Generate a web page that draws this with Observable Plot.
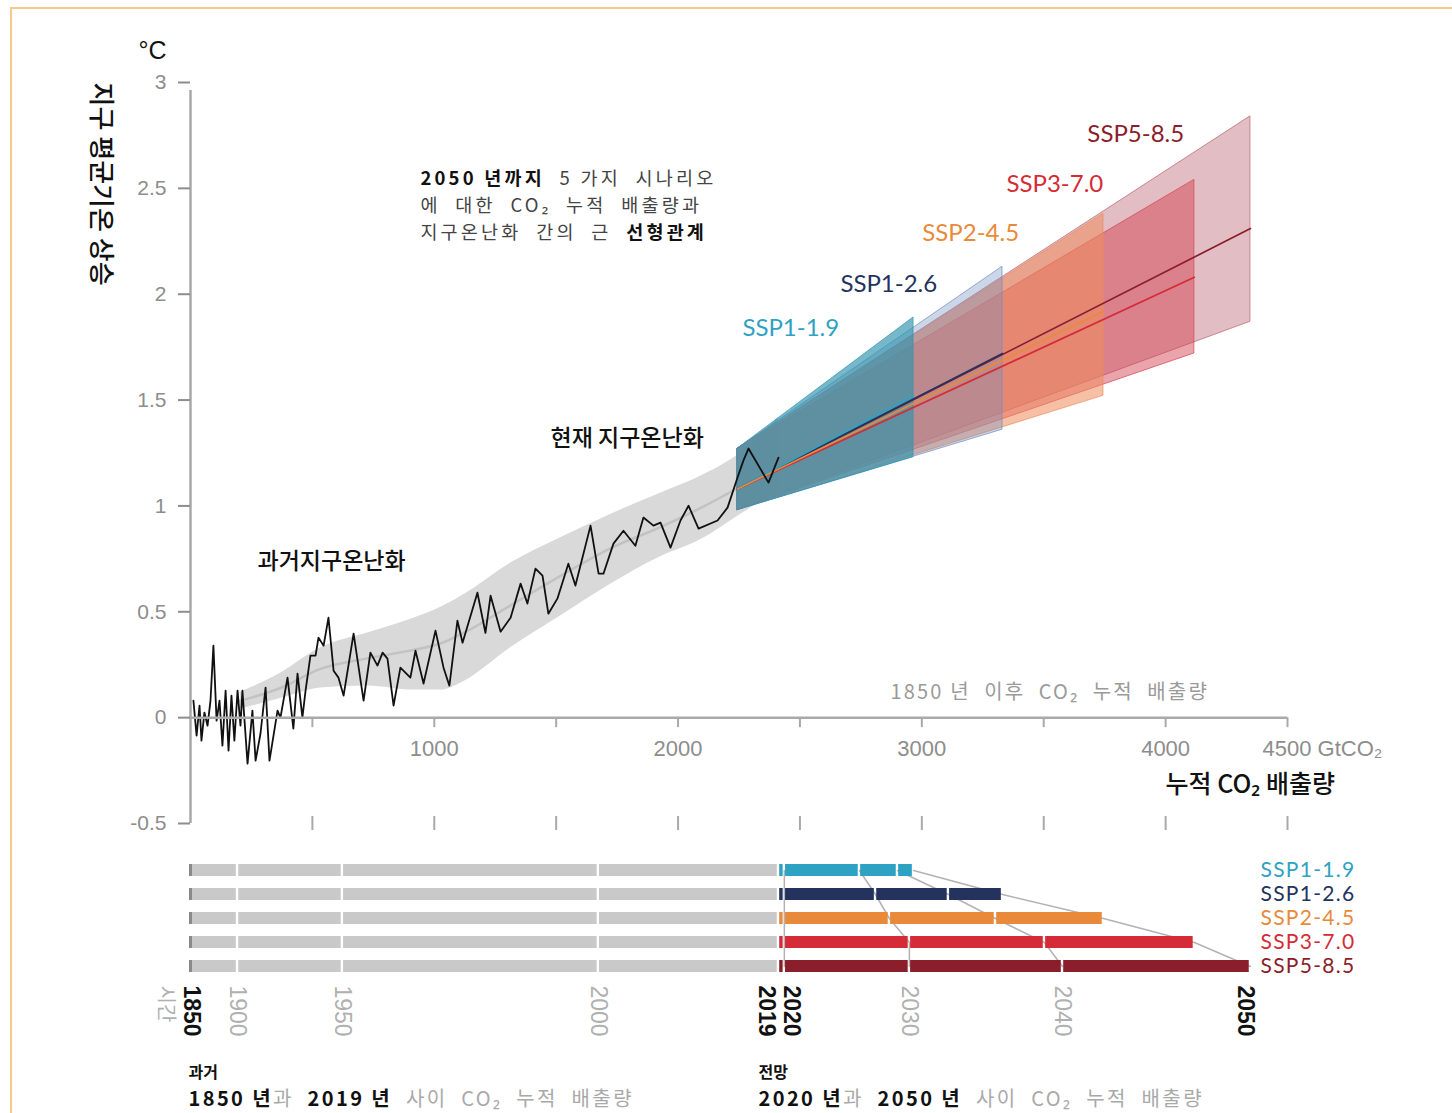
<!DOCTYPE html>
<html>
<head>
<meta charset="utf-8">
<script src="https://cdn.jsdelivr.net/npm/d3@7"></script>
<script src="https://cdn.jsdelivr.net/npm/@observablehq/plot@0.6"></script>
<style>
  body { margin: 0; background: #fff; }
  #wrap { position: relative; width: 1452px; height: 1113px; overflow: hidden; background: #fff; }
  #frame { position: absolute; left: 10px; top: 7px; width: 1500px; height: 1200px; border: 2px solid #f6c88a; box-sizing: border-box; pointer-events: none; }
  svg { display: block; }
</style>
</head>
<body>
<div id="wrap"><div id="chart"></div><div id="frame"></div></div>
<script>
// ---------- DATA ----------
// Historical warming vs cumulative CO2 emissions (GtCO2, °C)
const histG = [12,25,37,45,57,70,82,94,107,119,131,144,156,168,180,193,205,213,234,254,267,287,308,324,357,369,398,422,439,459,472,492,513,525,546,566,587,607,628,669,710,738,767,788,808,833,861,902,923,956,1005,1038,1062,1095,1116,1177,1210,1231,1272,1313,1354,1382,1415,1444,1468,1505,1550,1579,1641,1674,1694,1735,1776,1825,1858,1899,1928,1969,2010,2043,2084,2162,2203,2244,2268,2289,2371,2412];
const histT = [0.08,-0.085,0.057,-0.109,0.024,-0.038,0.08,0.34,-0.014,0.08,-0.132,0.128,-0.156,0.104,-0.109,0.128,-0.038,0.128,-0.217,0.033,-0.203,-0.076,0.142,-0.203,0.033,0,0.189,-0.052,0.208,0,0.128,0.293,0.293,0.378,0.34,0.472,0.222,0.189,0.104,0.397,0.08,0.307,0.246,0.307,0.279,0.057,0.236,0.189,0.316,0.161,0.411,0.236,0.151,0.458,0.354,0.59,0.40,0.576,0.406,0.472,0.633,0.539,0.704,0.671,0.491,0.562,0.727,0.624,0.907,0.68,0.68,0.822,0.883,0.812,0.945,0.907,0.921,0.803,0.931,1.001,0.893,0.931,0.992,1.134,1.214,1.271,1.11,1.228];

// Historical uncertainty band and smoothed trend
const bandG     = [205,369,533,726,915,1025,1120,1313,1518,1723,1928,2092,2256,2412];
const bandLo    = [0.04,0.09,0.14,0.15,0.13,0.13,0.17,0.33,0.48,0.63,0.76,0.84,0.96,1.07];
const bandHi    = [0.12,0.21,0.33,0.40,0.47,0.52,0.58,0.73,0.85,0.96,1.06,1.14,1.25,1.42];
const bandTrend = [0.08,0.14,0.23,0.28,0.32,0.35,0.40,0.53,0.67,0.80,0.90,0.99,1.09,1.18];

// Scenarios
const scenarios = ["SSP1-1.9","SSP1-2.6","SSP2-4.5","SSP3-7.0","SSP5-8.5"];
const scenarioColors = ["#2ea2c2","#23335e","#e98a3b","#d52b36","#8b1e2b"];
const fanColors = ["#2f93ad","#6f8cc0","#ee8d5c","#d4404f","#b9626f"];
const fanOpacity = [0.66,0.36,0.55,0.48,0.42];
const fanStartG = 2244, fanStartLo = 0.98, fanStartHi = 1.27, fanStartMid = 1.08;
const fanEndG   = [2966,3331,3745,4118,4348];
const fanEndLo  = [1.23,1.36,1.52,1.72,1.87];
const fanEndHi  = [1.89,2.13,2.38,2.54,2.84];
const fanEndMid = [1.52,1.72,1.92,2.08,2.31];

// Bottom panel: cumulative emissions at year markers
const histYears = [1850,1900,1950,2000,2019];
const histCum   = [0,193,623,1673,2412];
const cum2020 = [2436,2436,2436,2436,2436];
const cum2030 = [2744,2810,2867,2949,2949];
const cum2040 = [2900,3109,3302,3503,3577];
const cum2050 = fanEndG;

// Tick values
const yTicks = [-0.5,0,0.5,1,1.5,2,2.5,3];
const xTicks = [0,500,1000,1500,2000,2500,3000,3500,4000,4500];
const xLabels = [1000,2000,3000,4000];

// ---------- HELPERS ----------
const KR = '"Noto Sans CJK KR", "Noto Sans", sans-serif';
const LAT = 'Lato, "Noto Sans", sans-serif';
const HEL = '"Liberation Sans", Arial, sans-serif';
const NS = "http://www.w3.org/2000/svg";
function richify(svg, boldFill) {
  svg.querySelectorAll("text").forEach(t => {
    const s = t.textContent;
    if (!s.includes("**")) return;
    const parts = s.split("**");
    while (t.firstChild) t.removeChild(t.firstChild);
    parts.forEach((p, i) => {
      if (!p) return;
      const ts = document.createElementNS(NS, "tspan");
      ts.textContent = p;
      if (i % 2 === 1) { ts.setAttribute("font-weight", "bold"); ts.setAttribute("fill", boldFill); }
      t.appendChild(ts);
    });
  });
}
function spacing(svg, test, ls) {
  svg.querySelectorAll("text").forEach(t => { if (test(t.textContent)) t.setAttribute("letter-spacing", ls); });
}

// ---------- TOP PANEL ----------
const histRows = histG.map((g, i) => ({g, t: histT[i]}));
const bandRows = bandG.map((g, i) => ({g, lo: bandLo[i], hi: bandHi[i], mid: bandTrend[i]}));
const fanRows = scenarios.map((s, i) => [
  {s, g: fanStartG, lo: fanStartLo, hi: fanStartHi, mid: fanStartMid},
  {s, g: fanEndG[i], lo: fanEndLo[i], hi: fanEndHi[i], mid: fanEndMid[i]}
]);
const fanOrder = [4,3,2,1,0];
const lineOrder = [4,3,1,0,2];

const scenarioLabels = [
  {i: 0, g: 2264, t: 1.84},
  {i: 1, g: 2666, t: 2.045},
  {i: 2, g: 3002, t: 2.29},
  {i: 3, g: 3347, t: 2.52},
  {i: 4, g: 3679, t: 2.755}
];
const noteLines = [
  {g: 943, t: 2.545, text: "**2050 년까지**  5 가지  시나리오"},
  {g: 943, t: 2.418, text: "에  대한  CO₂  누적  배출량과"},
  {g: 943, t: 2.29, text: "지구온난화  간의  근  **선형관계**"}
];

const topPlot = Plot.plot({
  width: 1452, height: 845,
  marginTop: 82, marginBottom: 22, marginLeft: 190, marginRight: 165,
  x: {domain: [0, 4500]},
  y: {domain: [-0.5, 3]},
  color: {type: "identity"},
  style: {fontFamily: KR, fontSize: "20px", color: "#111", background: "transparent", overflow: "visible"},
  marks: [
    Plot.areaY(bandRows, {x: "g", y1: "lo", y2: "hi", fill: "#d9d9d9", curve: "monotone-x"}),
    Plot.line(bandRows, {x: "g", y: "mid", stroke: "#c2c2c2", strokeWidth: 2.5, curve: "monotone-x"}),
    ...fanOrder.map(i => Plot.areaY(fanRows[i], {x: "g", y1: "lo", y2: "hi", fill: fanColors[i], fillOpacity: fanOpacity[i], stroke: fanColors[i], strokeOpacity: 0.7, strokeWidth: 1})),
    ...lineOrder.map(i => Plot.line(fanRows[i], {x: "g", y: "mid", stroke: scenarioColors[i], strokeWidth: 1.7})),
    Plot.line(histRows, {x: "g", y: "t", stroke: "#111", strokeWidth: 1.8}),
    Plot.ruleX([0], {y1: -0.5, y2: 3, stroke: "#a9a9a9", strokeWidth: 2.5, insetBottom: -8}),
    Plot.axisY({ticks: yTicks, tickFormat: d => String(d), tickSize: 12, tickPadding: 12, fontSize: 21, color: "#8d8d8d", strokeWidth: 2, label: null, fontFamily: HEL}),
    Plot.axisX({anchor: "bottom", ticks: xTicks.slice(1), tickFormat: () => "", tickSize: 14, color: "#a9a9a9", strokeWidth: 2, label: null, dy: -7}),
    Plot.ruleY([0], {x1: 0, x2: 4500, stroke: "#a9a9a9", strokeWidth: 2.5}),
    Plot.ruleX(xTicks.slice(1), {y1: 0, y2: 0, insetBottom: -10, stroke: "#a9a9a9", strokeWidth: 2}),
    Plot.text(xLabels, {x: d => d, y: 0, dy: 31, text: d => String(d), fill: "#8d8d8d", fontSize: 22, fontFamily: HEL}),
    Plot.text([4500], {x: d => d, y: 0, dy: 31, dx: -25, textAnchor: "start", text: d => `${d} GtCO₂`, fill: "#8d8d8d", fontSize: 22, fontFamily: HEL}),
    Plot.text(["누적 CO₂ 배출량"], {x: () => 4000, y: () => -0.32, text: d => d, textAnchor: "start", fontSize: 25, fontWeight: 500, fill: "#111"}),
    Plot.text(["1850 년  이후  CO₂  누적  배출량"], {x: () => 2871, y: () => 0.118, text: d => d, textAnchor: "start", fontSize: 20, fill: "#9a9a9a"}),
    Plot.text(["°C"], {x: () => -156, y: () => 3.15, text: d => d, fontSize: 25, fill: "#111", fontFamily: HEL}),
    Plot.text(["지구 평균기온 상승"], {x: () => -369, y: () => 2.52, text: d => d, rotate: 90, fontSize: 26, fontWeight: 500, fill: "#111"}),
    Plot.text(noteLines, {x: "g", y: "t", text: "text", textAnchor: "start", fontSize: 18.5, fill: "#444"}),
    Plot.text(["현재 지구온난화"], {x: () => 1477, y: () => 1.318, text: d => d, textAnchor: "start", fontSize: 23, fontWeight: 500, fill: "#111"}),
    Plot.text(["과거지구온난화"], {x: () => 275, y: () => 0.737, text: d => d, textAnchor: "start", fontSize: 23, fontWeight: 500, fill: "#111"}),
    Plot.text(scenarioLabels, {x: "g", y: "t", text: d => scenarios[d.i], fill: d => scenarioColors[d.i], textAnchor: "start", fontSize: 24, fontFamily: LAT})
  ]
});
richify(topPlot, "#111");
spacing(topPlot, s => s.includes("시나리오") || s.includes("배출량과") || s.includes("선형관계"), "3.2");
spacing(topPlot, s => s.includes("이후"), "2.2");

// ---------- BOTTOM PANEL ----------
const projCum = [cum2020, cum2030, cum2040, cum2050];
const projYears = [2020, 2030, 2040, 2050];
const segRows = [];
scenarios.forEach((s, i) => {
  for (let k = 0; k < histCum.length - 1; k++) segRows.push({s, a: histCum[k], b: histCum[k + 1], fill: "#c9c9c9"});
  const m = [histCum[histCum.length - 1], cum2020[i], cum2030[i], cum2040[i], cum2050[i]];
  for (let k = 0; k < m.length - 1; k++) segRows.push({s, a: m[k], b: m[k + 1], fill: scenarioColors[i]});
});
const isoRows = [];
projYears.forEach((y, k) => scenarios.forEach((s, i) => isoRows.push({year: y, s, g: projCum[k][i]})));

const boldYears = [
  {label: "1850", g: histCum[0], dx: 10},
  {label: "2019", g: histCum[4], dx: -3},
  {label: "2020", g: cum2020[4], dx: 16},
  {label: "2050", g: cum2050[4], dx: 4}
];
const grayYears = [
  {label: "1900", g: histCum[1]},
  {label: "1950", g: histCum[2]},
  {label: "2000", g: histCum[3]},
  {label: "2030", g: cum2030[4]},
  {label: "2040", g: cum2040[4]}
];

const bottomPlot = Plot.plot({
  width: 1452, height: 268,
  marginTop: 0, marginBottom: 0, marginLeft: 190, marginRight: 165,
  x: {domain: [0, 4500], axis: null},
  y: {domain: scenarios, range: [5.4, 141.5], padding: 0.5, axis: null},
  color: {type: "identity"},
  style: {fontFamily: KR, fontSize: "20px", color: "#111", background: "transparent", overflow: "visible"},
  marks: [
    Plot.line(isoRows, {x: "g", y: "s", z: "year", stroke: "#b3b3b3", strokeWidth: 1.5}),
    Plot.rectX(segRows, {x1: "a", x2: "b", y: "s", fill: "fill", insetLeft: 1.2, insetRight: 1.2}),
    Plot.tickX(scenarios, {x: () => 0, y: d => d, stroke: "#8a8a8a", strokeWidth: 3}),
    ...boldYears.map(r => Plot.text([r], {x: "g", text: "label", frameAnchor: "top", dy: 140, dx: r.dx, rotate: 90, textAnchor: "start", fontSize: 23, fontWeight: "bold", fill: "#111", fontFamily: HEL})),
    Plot.text(grayYears, {x: "g", text: "label", frameAnchor: "top", dy: 140, dx: 9, rotate: 90, textAnchor: "start", fontSize: 23, fill: "#b0b0b0", fontFamily: HEL}),
    Plot.text(["시간"], {x: () => -105, text: d => d, frameAnchor: "top", dy: 140, dx: 8, rotate: 90, textAnchor: "start", fontSize: 20, fill: "#b0b0b0"}),
    Plot.text(scenarios, {x: () => 4389, y: d => d, text: d => d, fill: (d, i) => scenarioColors[i], textAnchor: "start", fontSize: 21, fontFamily: LAT}),
    Plot.text(["과거"], {x: () => 0, text: d => d, frameAnchor: "top", dy: 221, dx: -2, textAnchor: "start", fontSize: 16, fontWeight: "bold", fill: "#111"}),
    Plot.text(["**1850 년**과  **2019 년**  사이  CO₂  누적  배출량"], {x: () => 0, text: d => d, frameAnchor: "top", dy: 246, dx: -2, textAnchor: "start", fontSize: 20, fill: "#a9a9a9"}),
    Plot.text(["전망"], {x: () => 2330, text: d => d, frameAnchor: "top", dy: 221, textAnchor: "start", fontSize: 16, fontWeight: "bold", fill: "#111"}),
    Plot.text(["**2020 년**과  **2050 년**  사이  CO₂  누적  배출량"], {x: () => 2330, text: d => d, frameAnchor: "top", dy: 246, textAnchor: "start", fontSize: 20, fill: "#a9a9a9"})
  ]
});
richify(bottomPlot, "#111");
spacing(bottomPlot, s => s.includes("사이"), "2.4");
spacing(bottomPlot, s => s.startsWith("SSP"), "1.3");

const chart = document.getElementById("chart");
chart.appendChild(topPlot);
chart.appendChild(bottomPlot);
</script>
</body>
</html>
